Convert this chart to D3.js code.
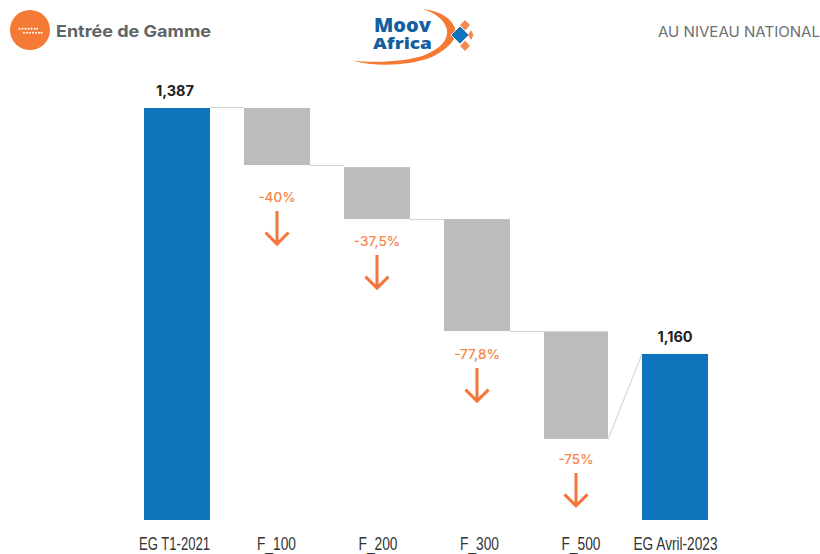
<!DOCTYPE html>
<html><head><meta charset="utf-8">
<script src="https://cdn.jsdelivr.net/npm/d3@7"></script>
<style>html,body{margin:0;padding:0;background:#fff}svg{display:block}</style>
</head><body><svg id="c" width="820" height="554"></svg>
<script>
const categories = ["EG T1-2021","F_100","F_200","F_300","F_500","EG Avril-2023"];
const kinds      = ["total","step","step","step","step","total"];
const barTops    = [1387,1387,1188,1013,635,559];
const barBottoms = [0,1195,1013,636,273,0];
const valueLabels = ["1,387","","","","","1,160"];
const changeLabels = ["","-40%","-37,5%","-77,8%","-75%",""];

const svg = d3.select("#c");
const leftEdge  = d3.scaleOrdinal(categories,[144,244,344,444,544,642]);
const rightEdge = d3.scaleOrdinal(categories,[210,310,410,510,608,708]);
const labelCentre = d3.scaleOrdinal(categories,[174.5,276.5,378,479.5,581,675.5]);
const labelWidth  = d3.scaleOrdinal(categories,[71,39,39,39,39,84]);
const y = d3.scaleLinear().domain([0,1387]).range([520,108]);
const noteGap = d3.scaleOrdinal(categories,[0,32,22,23,20,0]);
const valueNudge = d3.scaleOrdinal(categories,[-2,0,0,0,0,0]);
const ORANGE="#f47a35", BLUE="#1074bc", GREY="#bbbcbe", ARROW="#f4743a";
const rows = categories.map((c,i)=>({c,i,kind:kinds[i],top:barTops[i],bottom:barBottoms[i],val:valueLabels[i],chg:changeLabels[i]}));
const cx = d=>(leftEdge(d.c)+rightEdge(d.c))/2;

// connectors
const conn = d3.pairs(rows);
svg.append("g").selectAll("line").data(conn).join("line")
  .attr("x1",d=>rightEdge(d[0].c))
  .attr("x2",d=>leftEdge(d[1].c))
  .attr("y1",d=>y(d[0].kind==="total"?d[0].top:d[0].bottom)-(d[0].kind==="total"?1:-1)*0.5)
  .attr("y2",d=>d[1].kind==="total"?y(d[1].top):y(d[0].kind==="total"?d[0].top:d[0].bottom)-(d[0].kind==="total"?1:-1)*0.5)
  .attr("stroke","#cfd0d2").attr("stroke-width",1);

// bars
svg.append("g").selectAll("rect").data(rows).join("rect")
  .attr("x",d=>leftEdge(d.c)).attr("width",d=>rightEdge(d.c)-leftEdge(d.c))
  .attr("y",d=>y(d.top)).attr("height",d=>y(d.bottom)-y(d.top))
  .attr("fill",d=>d.kind==="total"?BLUE:GREY);

// value labels
svg.append("g").selectAll("text").data(rows.filter(d=>d.val)).join("text")
  .attr("x",d=>cx(d)+valueNudge(d.c)).attr("y",d=>y(d.top)-12)
  .attr("text-anchor","middle").attr("font-family","Inter, 'Open Sans', sans-serif")
  .attr("font-weight",700).attr("font-size",14.5).attr("fill","#1f2124").text(d=>d.val);

// change labels and arrows
const steps = rows.filter(d=>d.kind==="step");
const noteY = d=>y(d.bottom)+noteGap(d.c);
svg.append("g").selectAll("text").data(steps).join("text")
  .attr("x",cx).attr("y",d=>noteY(d)+5)
  .attr("text-anchor","middle").attr("font-family","Inter, 'Open Sans', sans-serif")
  .attr("font-weight",500).attr("font-size",13.5).attr("fill","#f5854a").text(d=>d.chg);
svg.append("g").selectAll("path").data(steps).join("path")
  .attr("transform",d=>`translate(${cx(d)},${noteY(d)})`)
  .attr("d","M0,14V47M-11.5,35.5L0,47L11.5,35.5")
  .attr("fill","none").attr("stroke",ARROW).attr("stroke-width",3);

// category labels
svg.append("g").selectAll("text").data(rows).join("text")
  .attr("x",d=>labelCentre(d.c)).attr("y",550)
  .attr("text-anchor","middle").attr("font-family","'Liberation Sans',Roboto,sans-serif")
  .attr("font-size",19).attr("fill","#333436").attr("lengthAdjust","spacingAndGlyphs")
  .attr("textLength",d=>labelWidth(d.c))
  .text(d=>d.c);

// header left
svg.append("circle").attr("cx",30).attr("cy",30).attr("r",20).attr("fill",ORANGE);
[[28.7,[19.5,22.5,25.5,28.5,31.5,34.5,37]],[32.7,[24,27,30,33,36,39,41.5]]].forEach(([yy,xs])=>{
  svg.append("g").selectAll("circle").data(xs).join("circle").attr("cx",d=>d).attr("cy",yy).attr("r",1).attr("fill","#fff");
});
svg.append("text").attr("x",56).attr("y",37).attr("font-family","Inter, sans-serif").attr("font-weight",700)
  .attr("font-size",16.5).attr("fill","#5f6466").attr("textLength",155).attr("lengthAdjust","spacingAndGlyphs").text("Entrée de Gamme");

// header right
svg.append("text").attr("x",820).attr("y",37).attr("text-anchor","end").attr("font-family","Inter, sans-serif")
  .attr("font-weight",400).attr("font-size",14).attr("fill","#6d7072").attr("textLength",162).attr("lengthAdjust","spacingAndGlyphs").text("AU NIVEAU NATIONAL");

// logo
const logo = svg.append("g");
logo.append("path").attr("fill",ORANGE)
  .attr("d","M352,60.5C375,63 405,62 425,55C441,48 448,40 447,30C445,20 435,13 423,9C440,11 451,18 455,28C458,38 450,48 432,57C410,66 375,67 352,60.5Z");
logo.append("path").attr("fill",BLUE).attr("stroke","#fff").attr("stroke-width",0.8).attr("d","M460,26L469,35L460,44L451,35Z");
logo.append("g").attr("fill","#f58a4e").selectAll("path")
  .data(["M465,20L470,25L465,30.5L460,25Z","M471,30L473.5,35L471,40L468,35Z","M465,40.5L470,46L465,51L460,46Z"])
  .join("path").attr("d",d=>d);
logo.selectAll("text").data([["Moov",374,32,57,19],["Africa",373,48.5,59,16.5]]).join("text")
  .attr("x",d=>d[1]).attr("y",d=>d[2]).attr("textLength",d=>d[3]).attr("lengthAdjust","spacingAndGlyphs")
  .attr("font-family","'Open Sans', Inter, sans-serif").attr("font-weight",800).attr("font-size",d=>d[4])
  .attr("fill","#14609f").text(d=>d[0]);
</script></body></html>
